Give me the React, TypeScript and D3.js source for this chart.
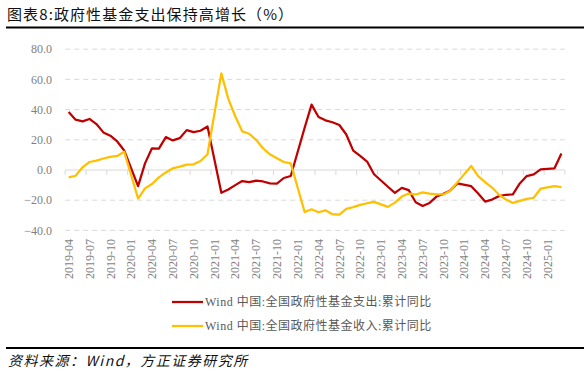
import React, { useEffect, useRef } from 'react';
import * as d3 from 'd3';

// monthly categories 2019-04 .. 2025-03 (January has no release, kept as null)
const months = d3.timeMonths(new Date(2019, 3, 1), new Date(2025, 3, 1)).map(d3.timeFormat('%Y-%m'));

// 全国政府性基金支出:累计同比 (%)
const spending = [
  38.4, 33.3, 32.2, 33.8, 30.4, 24.9, 22.7, 18.9, 12.9,
  null, -10.7, 4.4, 14.4, 14.2, 21.8, 19.6, 21.1, 26.4, 25.1, 26.0, 28.9,
  null, -15.1, -12.9, -10.0, -7.3, -8.0, -7.1, -7.6, -8.9, -9.1, -5.3, -4.0,
  null, 28.0, 43.3, 35.1, 32.9, 31.6, 29.8, 23.5, 12.8, 9.3, 5.6, -2.8,
  null, -11.1, -15.1, -11.8, -13.3, -21.4, -23.8, -21.8, -17.6, -15.8, -13.5, -8.9,
  null, -10.7, -15.6, -20.9, -19.6, -17.3, -16.4, -16.2, -8.9, -4.0, -2.9, 0.4,
  null, 1.1, 10.9,
];

// 全国政府性基金收入:累计同比 (%)
const income = [
  -4.9, -3.8, 1.8, 5.3, 6.2, 7.6, 8.7, 9.3, 12.2,
  null, -18.9, -12.2, -9.3, -4.9, -1.6, 1.1, 2.2, 3.6, 3.8, 6.0, 10.4,
  null, 64.0, 47.1, 35.6, 25.6, 24.0, 20.0, 14.4, 10.4, 7.8, 5.3, 4.4,
  null, -27.8, -26.0, -28.0, -26.7, -29.3, -29.6, -25.8, -24.6, -23.1, -22.0, -21.1,
  null, -24.4, -21.6, -17.6, -15.6, -16.2, -14.8, -15.6, -16.2, -16.2, -13.8, -8.2,
  null, 2.7, -4.0, -8.0, -11.6, -16.4, -19.5, -21.8, -20.4, -19.1, -18.4, -12.4,
  null, -10.7, -11.3,
];

const yTicks = [80, 60, 40, 20, 0, -20, -40];
const seriesNames = ['Wind 中国:全国政府性基金支出:累计同比', 'Wind 中国:全国政府性基金收入:累计同比'];
const seriesColors = ['#C00000', '#FFC000'];

const title = '图表8:政府性基金支出保持高增长（%）';
const source = '资料来源：Wind，方正证券研究所';

const W = 584;
const H = 374;
const serif = '"Liberation Serif", "Noto Sans CJK SC", serif';
const cjk = '"Noto Sans CJK SC", sans-serif';

const drawChart = (node: SVGSVGElement) => {
  const svg = d3.select(node);
  svg.selectAll('*').remove();

  const x = d3.scaleBand<string>().domain(months).range([65.2, 564.9]);
  const y = d3.scaleLinear().domain([-40, 80]).range([230.4, 49.2]);
  const cx = (m: string) => (x(m) as number) + x.bandwidth() / 2;

  // title and rules
  svg.append('text')
    .attr('x', 7).attr('y', 20)
    .style('font-family', cjk).style('font-size', '15px').style('fill', '#111')
    .style('letter-spacing', '1.1px')
    .text(title);
  svg.append('line').attr('x1', 6).attr('x2', W).attr('y1', 27.5).attr('y2', 27.5)
    .attr('stroke', '#000').attr('stroke-width', 2);
  svg.append('line').attr('x1', 6).attr('x2', W).attr('y1', 348).attr('y2', 348)
    .attr('stroke', '#000').attr('stroke-width', 2);
  svg.append('text')
    .attr('x', 8).attr('y', 366)
    .style('font-family', cjk).style('font-size', '14px').style('font-style', 'italic')
    .style('letter-spacing', '1.5px')
    .style('fill', '#111')
    .text(source);

  // grid
  const [x0, x1] = x.range();
  svg.append('g').selectAll('line')
    .data(yTicks.filter(t => t !== 0))
    .enter().append('line')
    .attr('x1', x0).attr('x2', x1)
    .attr('y1', d => y(d)).attr('y2', d => y(d))
    .attr('stroke', '#d9d9d9').attr('stroke-dasharray', '5,4');

  svg.append('line').attr('x1', x0).attr('x2', x1).attr('y1', y(0)).attr('y2', y(0))
    .attr('stroke', '#d9d9d9');

  // category tick marks every quarter on the zero line
  const tickPos = months.filter((_, i) => i % 3 === 0).map(m => x(m) as number).concat([x1]);
  svg.append('g').selectAll('line')
    .data(tickPos)
    .enter().append('line')
    .attr('x1', d => d).attr('x2', d => d)
    .attr('y1', y(0)).attr('y2', y(0) + 5)
    .attr('stroke', '#d9d9d9');

  // y labels
  svg.append('g').selectAll('text')
    .data(yTicks)
    .enter().append('text')
    .attr('x', 52).attr('y', d => y(d))
    .attr('dy', '0.35em')
    .attr('text-anchor', 'end')
    .style('font-family', serif).style('font-size', '12px').style('fill', '#7f7f7f')
    .text(d => d3.format('.1f')(d));

  // x labels, rotated
  svg.append('g').selectAll('text')
    .data(months.filter((_, i) => i % 3 === 0))
    .enter().append('text')
    .attr('transform', d => `translate(${cx(d)},239) rotate(-90)`)
    .attr('dy', '0.35em')
    .attr('text-anchor', 'end')
    .style('font-family', serif).style('font-size', '12px').style('fill', '#7f7f7f')
    .text(d => d);

  // series
  const line = d3.line<[string, number]>()
    .x(d => cx(d[0]))
    .y(d => y(d[1]));

  [spending, income].forEach((vals, k) => {
    const pts = months
      .map((m, i) => [m, vals[i]] as [string, number | null])
      .filter(d => d[1] != null) as [string, number][];
    svg.append('path')
      .attr('d', line(pts))
      .attr('fill', 'none')
      .attr('stroke', seriesColors[k])
      .attr('stroke-width', 2.25)
      .attr('stroke-linejoin', 'round');
  });

  // legend
  const lg = svg.append('g').selectAll('g')
    .data(seriesNames)
    .enter().append('g')
    .attr('transform', (_, i) => `translate(172,${302 + i * 24})`);
  lg.append('line')
    .attr('x1', 0).attr('x2', 31)
    .attr('stroke', (_, i) => seriesColors[i])
    .attr('stroke-width', 2.25);
  lg.append('text')
    .attr('x', 33).attr('dy', '0.35em')
    .style('font-family', serif).style('font-size', '12px').style('fill', '#595959')
    .style('letter-spacing', '0.5px')
    .text(d => d);
};

const App = () => {
  const ref = useRef<SVGSVGElement>(null);

  useEffect(() => {
    if (ref.current) drawChart(ref.current);
  }, []);

  return (
    <div style={{ position: 'absolute', left: 0, top: 0, width: W, height: H, background: '#fff' }}>
      <svg ref={ref} width={W} height={H} style={{ display: 'block' }} />
    </div>
  );
};

export default App;
